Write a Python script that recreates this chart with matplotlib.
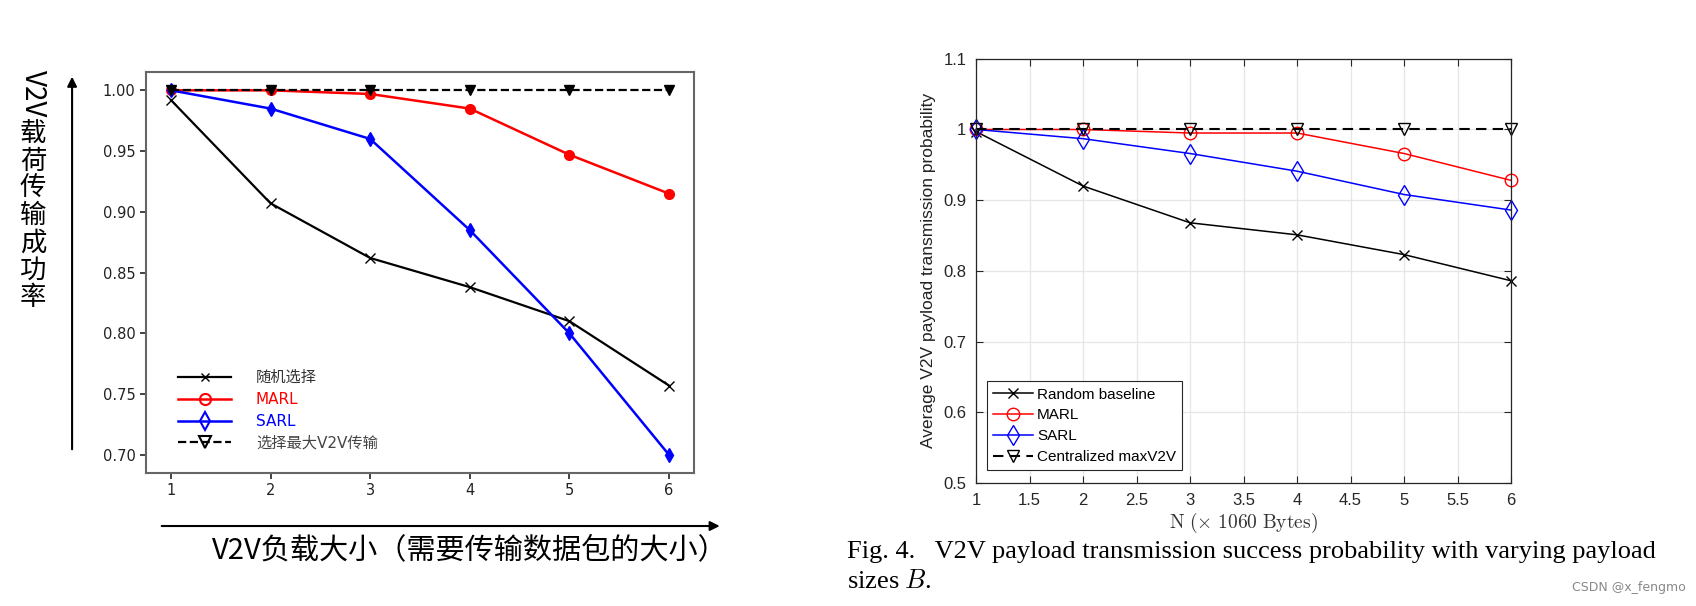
import matplotlib
matplotlib.use('Agg')
import matplotlib.pyplot as plt
from matplotlib.lines import Line2D
from matplotlib.patches import FancyArrowPatch

plt.rcParams['font.family'] = ['DejaVu Sans', 'Noto Sans CJK SC']
plt.rcParams['mathtext.fontset'] = 'cm'

# 左图：中文版
x = [1, 2, 3, 4, 5, 6]
rand_cn = [0.992, 0.907, 0.862, 0.838, 0.810, 0.757]
marl_cn = [1.000, 1.000, 0.997, 0.985, 0.947, 0.915]
sarl_cn = [1.000, 0.985, 0.960, 0.885, 0.800, 0.700]
max_cn = [1.0, 1.0, 1.0, 1.0, 1.0, 1.0]
labels_cn = ['随机选择', 'MARL', 'SARL', '选择最大V2V传输']
ylabel_cn = '载荷传输成功率'

# 右图：原论文 Fig. 4
rand_en = [0.997, 0.920, 0.868, 0.851, 0.823, 0.786]
marl_en = [1.000, 1.000, 0.995, 0.995, 0.966, 0.928]
sarl_en = [1.000, 0.987, 0.966, 0.941, 0.908, 0.886]
max_en = [1.0, 1.0, 1.0, 1.0, 1.0, 1.0]
labels_en = ['Random baseline', 'MARL', 'SARL', 'Centralized maxV2V']
xticks_en = [1, 1.5, 2, 2.5, 3, 3.5, 4, 4.5, 5, 5.5, 6]
yticks_en = [0.5, 0.6, 0.7, 0.8, 0.9, 1.0, 1.1]

fig = plt.figure(figsize=(16.96, 6.06), dpi=100)
cjk = ['Noto Sans CJK SC', 'DejaVu Sans']

# ---------- 左图 ----------
ax1 = fig.add_axes([0.0861, 0.2195, 0.323, 0.6615])
ax1.plot(x, rand_cn, '-x', color='black', lw=1.6, ms=7)
ax1.plot(x, marl_cn, '-o', color='red', lw=1.8, ms=7)
ax1.plot(x, sarl_cn, '-d', color='blue', lw=1.8, ms=7)
ax1.plot(x, max_cn, '--v', color='black', lw=1.6, ms=7)
for s in ax1.spines.values():
    s.set_color('#666666')
    s.set_linewidth(1.5)
ax1.set_xticks(x)
ax1.set_yticks([0.70, 0.75, 0.80, 0.85, 0.90, 0.95, 1.00])
ax1.set_yticklabels(['0.70', '0.75', '0.80', '0.85', '0.90', '0.95', '1.00'])
ax1.tick_params(labelsize=10.5, colors='#222222', length=4, width=1.2)

h1 = [Line2D([], [], color='black', marker='x', lw=1.6, ms=6),
      Line2D([], [], color='red', marker='o', mfc='none', lw=1.8, ms=8, mew=1.5),
      Line2D([], [], color='blue', marker='d', mfc='none', lw=1.8, ms=9, mew=1.5),
      Line2D([], [], color='black', marker='v', mfc='none', ls='--', lw=1.6, ms=8, mew=1.5)]
leg1 = ax1.legend(h1, labels_cn, loc='lower left', bbox_to_anchor=(0.047, 0.04),
                  borderaxespad=0, frameon=False, fontsize=11, handlelength=3.5,
                  handletextpad=1.6, labelspacing=0.45)
for t, c in zip(leg1.get_texts(), ['#333333', 'red', 'blue', '#444444']):
    t.set_color(c)

# 坐标箭头和中文标签
fig.add_artist(FancyArrowPatch((0.0425, 0.254), (0.0425, 0.878), transform=fig.transFigure,
                               arrowstyle='-|>', mutation_scale=14, color='black', lw=1.5))
fig.add_artist(FancyArrowPatch((0.0937, 0.132), (0.426, 0.132), transform=fig.transFigure,
                               arrowstyle='-|>', mutation_scale=14, color='black', lw=1.5))
fig.text(0.277, 0.092, 'V2V负载大小（需要传输数据包的大小）', fontsize=21,
         family=cjk, ha='center', va='center')
# 竖排标签：V2V 旋转，汉字直立
fig.text(0.0195, 0.846, 'V2V', fontsize=20, rotation=-90, family=cjk,
         ha='center', va='center')
for i, ch in enumerate(ylabel_cn):
    fig.text(0.0195, 1 - (134 + 27.3 * i) / 606, ch, fontsize=19, family=cjk,
             ha='center', va='center')

# ---------- 右图 ----------
lib = ['Liberation Sans', 'DejaVu Sans']
ax2 = fig.add_axes([0.5755, 0.203, 0.3155, 0.700])
ax2.plot(x, rand_en, '-x', color='black', lw=1.1, ms=7, clip_on=False)
ax2.plot(x, marl_en, '-o', color='red', mfc='none', lw=1.1, ms=9, clip_on=False)
ax2.plot(x, sarl_en, '-d', color='blue', mfc='none', lw=1.1, ms=10, clip_on=False)
ax2.plot(x, max_en, '--v', color='black', mfc='none', lw=1.5, ms=9, dashes=(5, 3),
         clip_on=False)
ax2.set_xlim(1, 6)
ax2.set_ylim(0.5, 1.1)
ax2.set_xticks(xticks_en)
ax2.set_xticklabels([f'{v:g}' for v in xticks_en], family=lib)
ax2.set_yticks(yticks_en)
ax2.set_yticklabels([f'{v:g}' for v in yticks_en], family=lib)
ax2.grid(True, color='#e6e6e6', lw=0.9)
ax2.set_axisbelow(True)
ax2.tick_params(direction='in', top=True, right=True, length=5, labelsize=12,
                colors='#262626', pad=7)
for s in ax2.spines.values():
    s.set_color('#262626')
    s.set_linewidth(0.9)
ax2.set_xlabel(r'$\mathrm{N\ (\times\ 1060\ Bytes)}$', fontsize=14, color='#333333',
               labelpad=2)
ax2.set_ylabel('Average V2V payload transmission probability', fontsize=12.5,
               color='#222222', labelpad=5, family=lib)
leg2 = ax2.legend(labels_en, loc='lower left', bbox_to_anchor=(0.02, 0.03),
                  borderaxespad=0, handlelength=2.6, handletextpad=0.3,
                  labelspacing=0.45, fancybox=False, edgecolor='#262626',
                  framealpha=1, borderpad=0.4, prop={'family': lib, 'size': 11})
leg2.get_frame().set_linewidth(0.8)

fig.text(0.4994, 0.089, 'Fig. 4.   V2V payload transmission success probability with varying payload',
         fontsize=19, family='Liberation Serif', ha='left', va='center')
fig.text(0.4994, 0.041, 'sizes $\\mathit{B}$.', fontsize=19, family='Liberation Serif',
         ha='left', va='center')
fig.text(0.994, 0.03, 'CSDN @x_fengmo', fontsize=9, color='#888888', ha='right',
         va='center')

fig.savefig('out.png', dpi=100)
